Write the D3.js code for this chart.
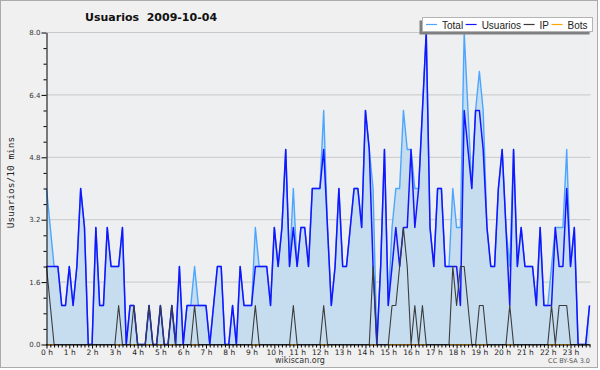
<!DOCTYPE html>
<html>
<head>
<meta charset="utf-8">
<script src="https://cdn.jsdelivr.net/npm/d3@7"></script>
<style>
  body { margin: 0; background: #fff; }
  svg { display: block; }
</style>
</head>
<body>
<div id="chart"></div>
<script>
// one point every 10 minutes, 2009-10-04
var usuarios = [
  2,2,2,2,1,1,2,1,2,4,
  3,0,0,3,1,1,3,2,2,2,
  3,0,1,1,0,0,0,1,0,0,
  1,0,0,1,0,2,0,1,1,1,
  1,1,1,0,1,2,2,0,0,1,
  0,2,1,1,1,2,2,2,2,1,
  3,2,3,5,2,3,2,3,3,2,
  4,4,4,5,3,1,2,4,2,2,
  3,4,4,3,6,5,2,0,2,5,
  1,2,3,2,3,3,5,3,4,6,
  8,3,2,4,4,2,2,2,2,1,
  6,5,4,6,6,5,3,2,2,4,
  5,3,1,5,2,3,2,2,2,1,
  3,1,1,1,3,2,2,4,2,3,
  0,0,0,1
];
var ip = [
  2,1,0,0,0,0,0,0,0,0,
  0,0,0,0,0,0,0,0,0,1,
  0,0,0,1,0,0,0,1,0,0,
  1,0,0,1,0,0,0,0,0,1,
  0,0,0,0,0,0,0,0,0,0,
  0,0,0,0,0,1,0,0,0,0,
  0,0,0,0,0,1,0,0,0,0,
  0,0,0,1,0,0,0,0,0,0,
  0,0,0,0,0,0,2,0,0,0,
  0,1,1,2,3,2,0,1,0,1,
  0,0,0,0,0,0,0,2,1,2,
  2,1,0,0,1,1,0,0,0,0,
  0,0,1,0,0,0,0,0,0,0,
  0,0,0,1,0,1,1,1,0,0,
  0,0,0,0
];
var total = [
  4,3,2,2,1,1,2,1,2,4,
  3,0,0,3,1,1,3,2,2,2,
  3,0,1,1,0,0,0,1,0,0,
  1,0,0,1,0,2,0,1,1,2,
  1,1,1,0,1,2,2,0,0,1,
  0,2,1,1,1,3,2,2,2,1,
  3,2,3,5,2,4,2,3,3,2,
  4,4,4,6,3,1,2,4,2,2,
  3,4,4,3,6,5,4,0,2,5,
  1,3,4,4,6,5,5,4,4,6,
  8,3,2,4,4,2,2,4,3,3,
  8,6,4,6,7,6,3,2,2,4,
  5,3,2,5,2,3,2,2,2,1,
  3,1,1,2,3,3,3,5,2,3,
  0,0,0,1
];
var bots = [
  0,0,0,0,0,0,0,0,0,0, 0,0,0,0,0,0,0,0,0,0,
  0,0,0,0,0,0,0,0,0,0, 0,0,0,0,0,0,0,0,0,0,
  0,0,0,0,0,0,0,0,0,0, 0,0,0,0,0,0,0,0,0,0,
  0,0,0,0,0,0,0,0,0,0, 0,0,0,0,0,0,0,0,0,0,
  0,0,0,0,0,0,0,0,0,0, 0,0,0,0,0,0,0,0,0,0,
  0,0,0,0,0,0,0,0,0,0, 0,0,0,0,0,0,0,0,0,0,
  0,0,0,0,0,0,0,0,0,0, 0,0,0,0,0,0,0,0,0,0,
  0,0,0,0
];
var hourLabels = ["0 h","1 h","2 h","3 h","4 h","5 h","6 h","7 h","8 h","9 h","10 h","11 h",
                  "12 h","13 h","14 h","15 h","16 h","17 h","18 h","19 h","20 h","21 h","22 h","23 h"];
var yMajor = [0, 1.6, 3.2, 4.8, 6.4, 8.0];
var yMinor = [0,0.4,0.8,1.2,1.6,2.0,2.4,2.8,3.2,3.6,4.0,4.4,4.8,5.2,5.6,6.0,6.4,6.8,7.2,7.6,8.0];
var legendNames = ["Total", "Usuarios", "IP", "Bots"];
var colors = ["#4ca6ff", "#1414ff", "#3c3c3c", "#ffa500"];

var width = 600, height = 370;

var svg = d3.select('#chart')
            .append('svg')
            .attr('width', width)
            .attr('height', height);

svg.append('rect').attr('width', width).attr('height', height).attr('fill', '#fff');
svg.append('rect')
   .attr('x', 0.5).attr('y', 0.5).attr('width', 597).attr('height', 367)
   .attr('fill', '#f0f0f0').attr('stroke', '#aaa');

var x = d3.scaleLinear().domain([0, 143]).range([46.5, 589.5]);
var y = d3.scaleLinear().domain([0, 8]).range([344.5, 32.5]);

// plot background
svg.append('rect')
   .attr('x', 46.5).attr('y', y(8)).attr('width', 544).attr('height', y(0) - y(8))
   .attr('fill', '#edeff1');

// grid
svg.selectAll('line.grid')
   .data(yMajor.slice(1))
   .enter().append('line')
   .attr('class', 'grid')
   .attr('x1', 46.5).attr('x2', 590.5)
   .attr('y1', function (d) { return y(d); })
   .attr('y2', function (d) { return y(d); })
   .attr('stroke', '#c8c8c8');

var idx = d3.range(total.length);

svg.append('path')
   .datum(idx)
   .attr('d', d3.area()
       .x(function (i) { return x(i); })
       .y0(y(0))
       .y1(function (i) { return y(total[i]); }))
   .attr('fill', '#c6ddf0');

function drawLine(values, color, w) {
  svg.append('path')
     .datum(idx)
     .attr('d', d3.line()
         .x(function (i) { return x(i); })
         .y(function (i) { return y(values[i]); }))
     .attr('fill', 'none')
     .attr('stroke', color)
     .attr('stroke-width', w)
     .attr('stroke-linejoin', 'round');
}

drawLine(bots, colors[3], 1);
drawLine(total, colors[0], 1.4);
drawLine(usuarios, colors[1], 1.5);
drawLine(ip, colors[2], 1.1);

// axes
var xAxis = d3.axisBottom(x)
              .tickValues(idx)
              .tickSize(3)
              .tickSizeOuter(0)
              .tickPadding(2)
              .tickFormat(function (d) { return d % 6 === 0 ? hourLabels[d / 6] : ''; });

var gx = svg.append('g').attr('transform', 'translate(0,' + y(0) + ')').call(xAxis);
gx.selectAll('.tick line').attr('y2', function (d) { return d % 6 === 0 ? 4 : 3; });
gx.selectAll('text').attr('font-family', 'DejaVu Sans').attr('font-size', '7.5px').attr('fill', '#222');
gx.select('.domain').attr('d', 'M46,0.5H590.5').attr('stroke', '#000');

var yAxis = d3.axisLeft(y)
              .tickValues(yMinor)
              .tickSize(3)
              .tickSizeOuter(0)
              .tickPadding(2)
              .tickFormat(function (d) {
                return yMajor.indexOf(d) >= 0 ? d.toFixed(1) : '';
              });

var gy = svg.append('g').attr('transform', 'translate(46.5,0)').call(yAxis);
gy.selectAll('.tick line').attr('x2', function (d) { return yMajor.indexOf(d) >= 0 ? -5 : -3; });
gy.selectAll('text')
  .attr('x', -6)
  .attr('font-family', 'DejaVu Sans').attr('font-size', '7px').attr('fill', '#333');
gy.select('.domain').attr('stroke', '#000');

// titles
svg.append('text')
   .attr('x', 85).attr('y', 21)
   .attr('font-family', 'DejaVu Sans').attr('font-weight', 'bold').attr('font-size', '11px')
   .attr('fill', '#111')
   .style('white-space', 'pre')
   .text('Usuarios  2009-10-04');

svg.append('text')
   .attr('transform', 'translate(14,182.5) rotate(-90)')
   .attr('text-anchor', 'middle')
   .attr('font-family', 'DejaVu Sans Mono').attr('font-size', '9.5px')
   .attr('fill', '#222')
   .text('Usuarios/10 mins');

svg.append('text')
   .attr('x', 300).attr('y', 363)
   .attr('text-anchor', 'middle')
   .attr('font-family', 'DejaVu Sans').attr('font-size', '8px')
   .attr('fill', '#333')
   .text('wikiscan.org');

svg.append('text')
   .attr('x', 590).attr('y', 363)
   .attr('text-anchor', 'end')
   .attr('font-family', 'DejaVu Sans').attr('font-size', '6.5px')
   .attr('fill', '#555')
   .text('CC BY-SA 3.0');

// legend
svg.append('rect')
   .attr('x', 419.5).attr('y', 20.5).attr('width', 170).attr('height', 14)
   .attr('fill', '#808080');
svg.append('rect')
   .attr('x', 422.5).attr('y', 17.5).attr('width', 170).attr('height', 14)
   .attr('fill', '#fff').attr('stroke', '#b4b4b4');

var lx = 426;
legendNames.forEach(function (name, k) {
  svg.append('line')
     .attr('x1', lx).attr('x2', lx + 11)
     .attr('y1', 24.5).attr('y2', 24.5)
     .attr('stroke', colors[k]).attr('stroke-width', 1.2);
  var t = svg.append('text')
     .attr('x', lx + 16).attr('y', 28.5)
     .attr('font-family', 'Liberation Sans').attr('font-size', '10px')
     .attr('fill', '#222')
     .text(name);
  lx = lx + 16 + t.node().getComputedTextLength() + 2.5;
});
</script>
</body>
</html>
